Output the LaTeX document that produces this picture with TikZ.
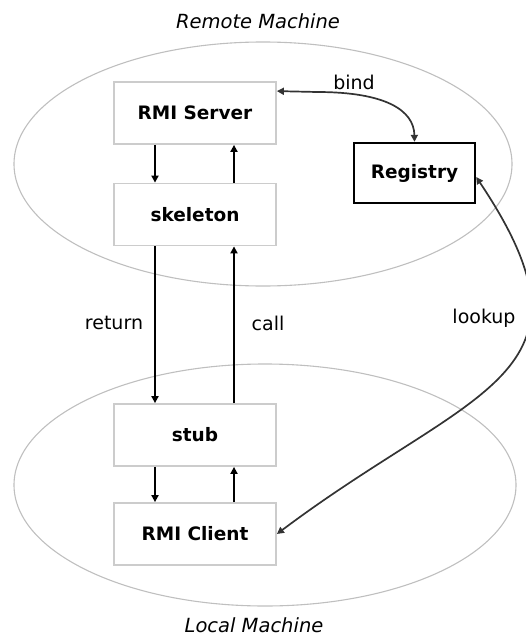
\documentclass[tikz,border=0pt]{standalone}
\usepackage{fontspec}
\setmainfont{DejaVu Sans}
\usetikzlibrary{arrows.meta}
\begin{document}
\begin{tikzpicture}[x=1pt,y=-1pt,
  machine/.style={draw=black!25, line width=1.1pt},
  compbox/.style={draw=black!20, line width=1.8pt, minimum width=162pt, minimum height=62pt,
    inner sep=0pt, font=\bfseries\fontsize{18.5}{21}\selectfont},
  regbox/.style={draw=black, line width=2.4pt, minimum width=121pt, minimum height=60pt,
    inner sep=0pt, font=\bfseries\fontsize{18.5}{21}\selectfont},
  flow/.style={-{Triangle[length=7pt,width=7pt]}, line width=2pt},
  twoway/.style={{Triangle[length=7pt,width=7pt]}-{Triangle[length=7pt,width=7pt]},
    line width=1.7pt, black!80},
  lbl/.style={font=\fontsize{19}{21}\selectfont},
  title/.style={font=\itshape\fontsize{19.5}{22}\selectfont}]
\useasboundingbox (0,0) rectangle (526,637);
\clip (0,0) rectangle (526,637);

% machine boundaries
\draw[machine] (263,164) ellipse [x radius=249pt, y radius=122pt];
\draw[machine] (265,485) ellipse [x radius=251pt, y radius=121pt];
\node[title, inner sep=1pt] (remote) at (258,21) {Remote Machine};
\node[title, inner sep=1pt] (local) at (254,625) {Local Machine};

% components
\node[compbox] (srv)  at (195,113) {RMI Server};
\node[compbox] (skel) at (195,214.5) {skeleton};
\node[compbox] (stub) at (195,435) {stub};
\node[compbox] (cli)  at (195,534) {RMI Client};
\node[regbox]  (reg)  at (414.5,173) {Registry};

% request / reply paths
\draw[flow] ([xshift=-40pt]srv.south)  -- ([xshift=-40pt]skel.north);
\draw[flow] ([xshift=39pt]skel.north)  -- ([xshift=39pt]srv.south);
\draw[flow] ([xshift=-40pt]skel.south) -- ([xshift=-40pt]stub.north);
\draw[flow] ([xshift=39pt]stub.north)  -- ([xshift=39pt]skel.south);
\draw[flow] ([xshift=-40pt]stub.south) -- ([xshift=-40pt]cli.north);
\draw[flow] ([xshift=39pt]cli.north)   -- ([xshift=39pt]stub.south);

\node[lbl] (ret)  at (114,323) {return};
\node[lbl] (call) at (268,323) {call};

% registry interactions
\coordinate (bindbend) at (317,92);
\draw[twoway] ([yshift=-10pt]srv.north east) -- (bindbend)
  .. controls (385,92) and (414,110) .. (reg.north);
\node[lbl] (bind) at (354,82) {bind};

\draw[twoway] ([yshift=-4pt]reg.east) .. controls (610,377) and (474,386) .. (cli.east);
\node[lbl] (lookup) at (484,318) {lookup};
\end{tikzpicture}
\end{document}
